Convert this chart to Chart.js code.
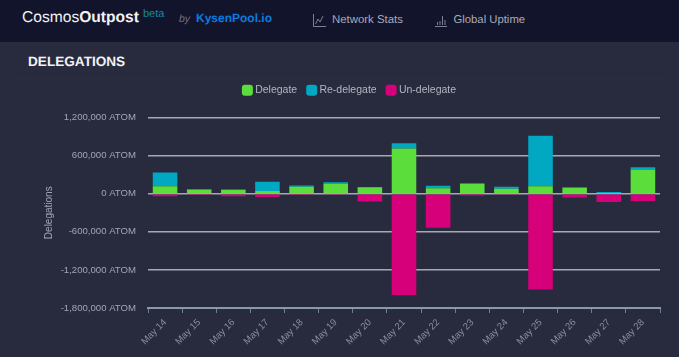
<!DOCTYPE html>
<html><head><meta charset="utf-8">
<script src="https://cdn.jsdelivr.net/npm/chart.js@4"></script>
<style>
html,body{margin:0;padding:0;width:679px;height:357px;overflow:hidden;background:#282b3e;font-family:"Liberation Sans",Arial,sans-serif;text-rendering:geometricPrecision}
#hdr{position:absolute;left:0;top:0;width:679px;height:42px;background:#12142b}
.t{position:absolute;white-space:nowrap}
#rule{position:absolute;left:12px;top:73px;width:655px;height:1px;background:#25283a}
#wrap{position:absolute;left:0;top:75px;width:679px;height:282px}
svg{position:absolute}
</style></head><body>
<div id="hdr">
<div class="t" style="left:22px;top:8px;font-size:15.6px;line-height:20px;color:#f2f2f5">Cosmos<b>Outpost</b></div>
<div class="t" style="left:143px;top:8px;font-size:11px;line-height:13px;color:#14899f">beta</div>
<div class="t" style="left:179px;top:13px;font-size:10.5px;line-height:13px;font-style:italic;color:#6d6f82">by</div>
<div class="t" style="left:196px;top:11px;font-size:12px;line-height:15px;font-weight:bold;color:#0b7be0">KysenPool.io</div>
<svg style="left:313px;top:14px" width="13" height="13" viewBox="0 0 13 13" fill="none" stroke="#7d7f92" stroke-width="1"><path d="M.5 0v12.5H13"/><path d="M2.5 10l2.5-5 2 3 3-6"/></svg>
<div class="t" style="left:332px;top:13px;font-size:11.4px;line-height:15px;color:#a9abba">Network Stats</div>
<svg style="left:435px;top:15px" width="12" height="12" viewBox="0 0 12 12" fill="none" stroke="#7d7f92" stroke-width="1"><path d="M0 11.5h12"/><path d="M2.5 10V7M5 10V6M7.5 10V1M10 10V5"/></svg>
<div class="t" style="left:453.5px;top:13px;font-size:11.3px;line-height:15px;color:#a9abba">Global Uptime</div>
</div>
<div class="t" style="left:28px;top:53px;font-size:13.6px;line-height:17px;font-weight:bold;color:#f2f2f5">DELEGATIONS</div>
<div id="rule"></div>
<div id="wrap"><canvas id="c" width="679" height="282"></canvas></div>
<script>
const categories=["May 14","May 15","May 16","May 17","May 18","May 19","May 20","May 21","May 22","May 23","May 24","May 25","May 26","May 27","May 28"];
const delegate=[116000,68000,63000,42000,110000,153000,100000,711000,84000,158000,79000,116000,95000,10000,374000];
const redelegate=[216000,3000,3000,148000,21000,26000,5000,84000,42000,5000,31000,795000,5000,16000,42000];
const undelegate=[-42000,-20000,-42000,-53000,-20000,-10000,-121000,-1595000,-535000,-30000,-10000,-1510000,-58000,-131000,-116000];
const yTicks=[1200000,600000,0,-600000,-1200000,-1800000];
const family="'Liberation Sans',Arial,sans-serif";
const legendGap={id:"legendGap",beforeInit(chart){const f=chart.legend.fit;chart.legend.fit=function(){f.call(this);this.height=44.5;}}};
new Chart(document.getElementById("c"),{
 type:"bar",
 data:{labels:categories,datasets:[
  {label:"Delegate",data:delegate,backgroundColor:"#5bdd3c",borderWidth:0},
  {label:"Re-delegate",data:redelegate,backgroundColor:"#00a8c2",borderWidth:0},
  {label:"Un-delegate",data:undelegate,backgroundColor:"#d6007a",borderWidth:0}
 ]},
 plugins:[legendGap],
 options:{
  responsive:false,animation:false,
  layout:{padding:{top:-2,right:19,left:41,bottom:0}},
  plugins:{tooltip:{enabled:false},legend:{position:"top",labels:{color:"#b4b5c0",font:{family,size:10.5},boxWidth:5,boxHeight:5,padding:12,
    generateLabels(chart){return chart.data.datasets.map((d,i)=>({text:d.label,fillStyle:d.backgroundColor,strokeStyle:d.backgroundColor,lineWidth:6,lineJoin:"round",fontColor:"#b4b5c0",datasetIndex:i,hidden:false}));}}}},
  scales:{
   x:{stacked:true,
    grid:{drawOnChartArea:false,drawTicks:true,tickLength:5,color:"#6e7f8c",offset:true},
    border:{color:"#8a9aa5",width:2},
    ticks:{color:"#8c8e9e",font:{family,size:9.5},maxRotation:45,minRotation:45,autoSkip:false,padding:4},
    afterFit(s){s.height=49}},
   y:{stacked:true,min:-1800000,max:1200000,
    afterBuildTicks(s){s.ticks=yTicks.map(v=>({value:v}))},
    grid:{color:"#a6a8b2",lineWidth:1.5,drawTicks:false},
    border:{display:false},
    title:{display:true,text:"Delegations",color:"#a3a5b2",font:{family,size:10},padding:{top:2,bottom:0}},
    ticks:{color:"#a3a5b2",font:{family,size:9.6},padding:12,callback:v=>v.toLocaleString("en-US")+" ATOM"},
    afterFit(s){s.width=107}}
  }
 }
});
</script>
</body></html>
